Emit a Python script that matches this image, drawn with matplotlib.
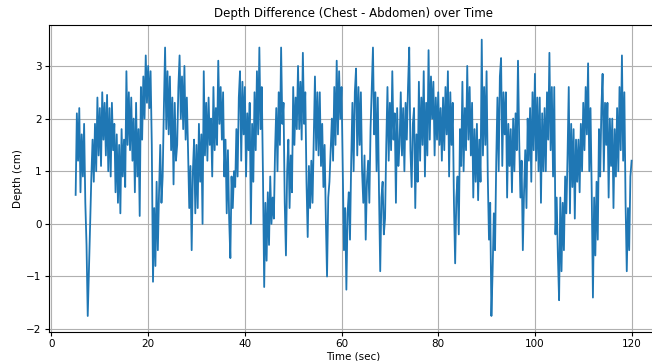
import matplotlib
matplotlib.use("Agg")
import matplotlib.pyplot as plt

t_start = 5.0
t_step = 0.25
depth = [
    0.55, 2.1, 1.2, 2.2,
    0.6, 1.7, 0.9, 1.9,
    0.4, -0.4, -1.75, -0.9,
    0.0, 0.9, 1.6, 0.8,
    1.9, 1.0, 2.4, 1.3,
    2.2, 1.1, 2.5, 1.6,
    2.3, 1.3, 2.45, 1.0,
    2.2, 0.9, 2.3, 1.4,
    1.9, 0.6, 1.7, 0.4,
    1.5, 0.2, 1.8, 0.9,
    1.6, 0.7, 2.9, 1.5,
    2.5, 1.4, 2.4, 1.2,
    2.0, 0.6, 2.3, 0.9,
    1.8, 0.15, 2.6, 1.6,
    2.8, 2.0, 3.2, 2.3,
    3.0, 2.2, 2.9, 1.5,
    -1.1, 0.3, -0.8, 0.8,
    -0.5, 0.6, 1.5, 0.4,
    0.9, 2.2, 3.35, 1.8,
    2.9, 1.7, 2.8, 1.4,
    2.4, 0.75, 2.3, 1.2,
    1.5, 2.6, 3.2, 2.0,
    2.8, 1.8, 3.0, 1.6,
    2.4, 1.4, 0.3, 1.1,
    -0.5, 1.0, 1.6, 0.2,
    1.5, 0.3, 1.9, 0.8,
    1.7, 0.0, 2.9, 1.3,
    2.3, 1.2, 2.4, 1.5,
    2.0, 0.9, 2.6, 1.4,
    2.2, 1.5, 3.1, 1.9,
    2.6, 1.6, 2.5, 0.9,
    1.6, 0.2, 1.4, 0.1,
    -0.65, 0.9, 0.3, 1.0,
    0.7, 1.8, 0.9, 2.4,
    2.9, 1.2, 2.7, 1.7,
    2.6, 0.9, 2.1, 1.4,
    2.3, 0.0, 1.9, 0.8,
    2.5, 1.4, 2.9, 1.7,
    3.35, 1.8, 2.6, 0.9,
    -1.2, 0.4, -0.7, 0.6,
    -0.4, 0.9, 0.0, 0.5,
    0.1, 1.4, 2.2, 1.0,
    2.5, 1.5, 3.35, 1.9,
    2.3, 0.4, -0.6, 1.0,
    1.6, 0.3, 1.3, 0.6,
    2.6, 1.5, 2.4, 1.8,
    3.0, 1.8, 2.7, 1.6,
    3.25, 1.9, 2.5, 0.8,
    -0.25, 1.1, 0.3, 1.2,
    0.4, 1.6, 2.8, 1.4,
    2.5, 1.3, 2.5, 1.1,
    1.9, 0.7, 1.5, 0.1,
    -1.0, 0.5, 0.8, 1.4,
    2.0, 1.2, 2.6, 1.5,
    3.1, 1.7, 2.9, 2.0,
    2.6, 1.0, -0.5, 0.3,
    -1.25, 0.2, 0.6, -0.3,
    1.2, 2.3, 1.0, 2.5,
    2.95, 1.3, 2.6, 1.5,
    2.5, 1.0, 0.4, 1.3,
    -0.3, 0.8, 1.2, 0.4,
    1.8, 2.6, 3.35, 1.7,
    2.5, 1.0, 2.4, 0.6,
    -0.9, 0.5, 0.8, -0.2,
    0.1, 1.5, 2.6, 1.2,
    2.3, 1.4, 2.9, 1.6,
    2.1, 0.4, 2.2, 1.1,
    1.5, 2.5, 1.3, 2.2,
    1.0, 2.3, 1.6, 2.6,
    3.35, 1.4, 0.7, 1.9,
    2.2, 0.3, 1.7, 0.8,
    2.7, 1.2, 2.4, 1.5,
    2.9, 0.9, 2.3, 1.3,
    3.3, 1.6, 2.8, 2.0,
    2.7, 1.3, 2.4, 1.6,
    2.5, 1.5, 2.2, 1.2,
    2.4, 1.4, 2.6, 1.7,
    2.9, 0.9, 2.5, 1.5,
    2.3, 0.4, -0.75, 0.5,
    0.9, -0.2, 1.8, 1.1,
    2.7, 1.0, 2.2, 1.4,
    3.0, 1.6, 2.6, 1.3,
    2.3, 0.5, 1.8, 0.8,
    1.9, 0.45, 1.6, 0.8,
    3.5, 1.3, 2.6, 1.5,
    2.9, 0.9, -0.3, 0.4,
    -1.75, -0.9, 0.2, -0.5,
    1.2, 2.4, 1.0, 2.8,
    3.15, 1.1, 2.5, 1.7,
    2.5, 0.5, 1.9, 1.1,
    1.8, 0.6, 2.0, 1.0,
    2.1, 1.4, 3.1, 1.6,
    0.5, 1.2, -0.5, 0.6,
    1.4, 0.3, 2.0, 1.2,
    2.2, 0.8, 2.5, 1.4,
    2.85, 1.2, 2.4, 1.0,
    2.4, 0.4, 2.1, 1.0,
    2.2, 1.0, 2.5, 1.6,
    3.25, 1.4, 2.6, 0.9,
    2.6, -0.2, 0.5, -0.6,
    -1.45, 0.5, -0.9, 0.4,
    -0.5, 0.9, 0.2, 1.3,
    2.6, 0.2, 1.9, 0.7,
    1.8, 0.1, 1.6, 0.8,
    1.6, 0.6, 1.9, 1.0,
    2.3, 1.4, 2.6, 1.7,
    3.05, 1.0, 2.2, 0.6,
    -1.4, 0.5, -0.6, 0.8,
    -0.3, 1.8, 0.9, 2.2,
    2.85, 1.0, 2.3, 1.5,
    2.3, 0.5, 2.0, 1.1,
    2.0, 0.3, 1.8, 0.9,
    2.2, 1.0, 2.6, 1.4,
    3.2, 1.2, 2.5, 0.4,
    -0.9, 0.3, -0.5, 0.9,
    1.2,
]
time = [t_start + i * t_step for i in range(len(depth))]

fig = plt.figure(figsize=(6.52, 3.61), dpi=100)
ax = fig.add_axes([0.0745, 0.081, 0.935, 0.85])

ax.plot(time, depth, color="#1f77b4", linewidth=1.3)

ax.set_xlim(-0.6, 125.5)
ax.set_ylim(-2.05, 3.78)
ax.set_title("Depth Difference (Chest - Abdomen) over Time", fontsize=8.5)
ax.set_xlabel("Time (sec)", fontsize=7.5, labelpad=2)
ax.set_ylabel("Depth (cm)", fontsize=7.5, labelpad=2)
ax.tick_params(labelsize=7.5, length=3, pad=2)
ax.grid(True)

fig.savefig("out.png", dpi=100)
